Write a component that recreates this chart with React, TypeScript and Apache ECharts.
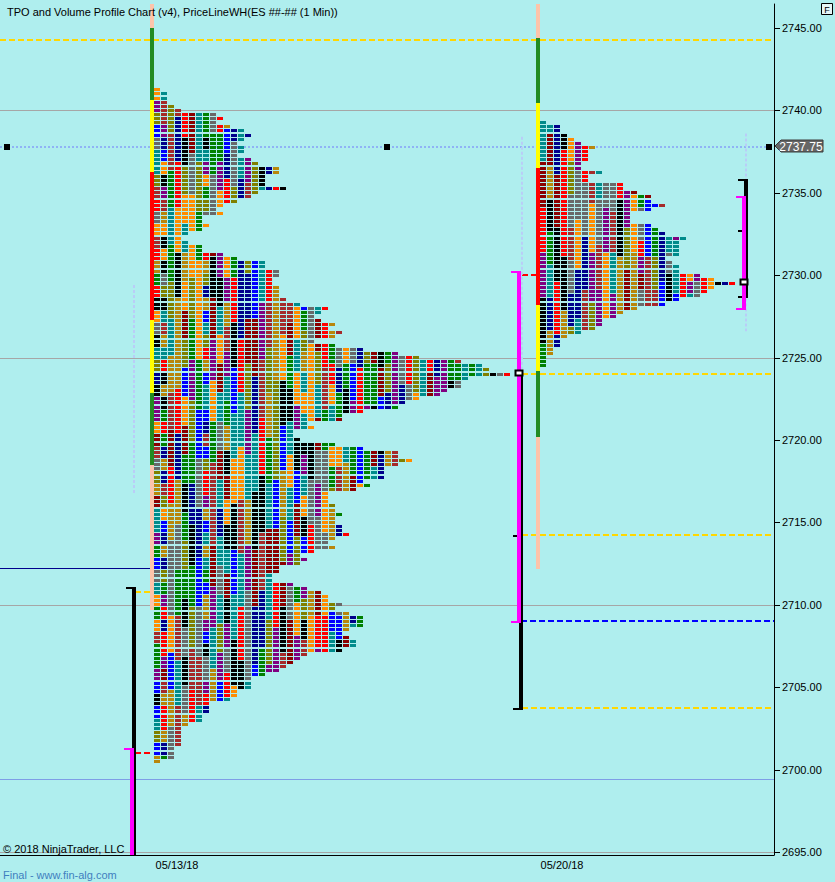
import React, { useEffect, useRef } from "react";
import * as echarts from "echarts";

// ---------- texts ----------
const TITLE = "TPO and Volume Profile Chart (v4), PriceLineWH(ES ##-## (1 Min))";
const COPYRIGHT = "© 2018 NinjaTrader, LLC";
const FOOTER = "Final - www.fin-alg.com";

// ---------- axes ----------
const dateLabels = ["05/13/18", "05/20/18"];
const dateSlots = [25.29, 80.29];
const priceTicks = [2695, 2700, 2705, 2710, 2715, 2720, 2725, 2730, 2735, 2740, 2745];
const yMin = 2694.818;
const yMax = 2746.456;
const xMax = 774 / 7; // TPO column slots across the plot
const lastPrice = 2737.75;
const tickSize = 0.25;

// ---------- TPO profiles (letters per price row, top -> bottom) ----------
const profile1Top = 2741.25;
const profile1Start = 22;
const profile1Counts = [
  1, 2, 2, 2, 3, 4, 9, 10, 9, 11, 13, 14, 13, 12, 13, 13, 12, 14, 15, 18, 18, 16, 16, 16, 19, 15, 14, 12, 10, 9, 10, 7, 7, 8, 7, 5, 4, 5, 7, 7, 10, 12, 16, 16, 18, 18, 17,
  17, 18, 18, 18, 19, 21, 25, 24, 23, 24, 26, 25, 27, 26, 23, 26, 30, 35, 38, 44, 47, 48, 51, 45, 44, 44, 42, 41, 38, 36, 35, 30, 27, 27, 22, 23, 20, 20, 21, 26, 30, 35, 35, 37, 35, 33,
  33, 33, 30, 31, 29, 25, 25, 25, 26, 26, 27, 26, 26, 27, 27, 28, 26, 25, 26, 23, 21, 22, 21, 18, 18, 17, 17, 20, 22, 24, 25, 25, 27, 26, 28, 30, 30, 30, 28, 27, 28, 29, 29, 27, 22, 21, 20, 19, 18, 16, 14, 14, 14, 12, 12, 11, 8, 8, 8, 7, 7, 5, 4, 4, 4, 4, 4, 3, 3, 3, 1,
];
const profile2Top = 2739.25;
const profile2Start = 540 / 7;
const profile2Counts = [
  1, 3, 3, 4, 5, 6, 8, 7, 7, 7, 6, 6, 9, 7, 7, 12, 12, 14, 16, 16, 18, 16, 13, 13, 13, 16, 17, 18, 21, 20, 20, 20, 20, 18, 19, 20, 20, 23, 25, 28, 25, 24, 23, 20, 18, 14, 12, 11, 9, 9, 8, 6, 4, 3, 3, 2, 2, 1, 1, 1,
];

// ---------- period (initial balance / value) bars ----------
const periodBarSlots = [21.71, 76.86];
const periodBar1 = [
  [2746.46, 2745.0, "peach"], [2745.0, 2740.63, "green"], [2740.63, 2736.26, "yellow"], [2736.26, 2727.28, "red"],
  [2727.28, 2722.85, "yellow"], [2722.85, 2718.48, "green"], [2718.48, 2709.68, "peach"],
];
const periodBar2 = [
  [2746.46, 2744.4, "peach"], [2744.4, 2740.45, "green"], [2740.45, 2736.5, "yellow"], [2736.5, 2728.2, "red"],
  [2728.2, 2724.2, "yellow"], [2724.2, 2720.2, "green"], [2720.2, 2712.2, "peach"],
];

// ---------- range bars ----------
const rangeBars = [
  // slot, top, bottom, kind
  [19.14, 2711.0, yMin, "black"],
  [74.43, 2724.07, 2703.68, "black"],
  [106.57, 2735.78, 2728.68, "black"],
  [18.86, 2701.25, yMin, "magenta"],
  [74.14, 2730.2, 2708.96, "magenta"],
  [106.29, 2734.75, 2727.95, "magenta"],
];
const rangeCaps = [
  // from slot, to slot, price, kind
  [18.0, 19.43, 2711.0, "black"],
  [73.29, 74.71, 2703.68, "black"],
  [73.29, 74.14, 2714.17, "black"],
  [105.43, 106.86, 2735.78, "black"],
  [105.43, 106.29, 2732.68, "black"],
  [105.43, 106.29, 2728.68, "black"],
  [17.71, 19.14, 2701.25, "magenta"],
  [73.0, 74.43, 2730.2, "magenta"],
  [73.0, 74.43, 2708.96, "magenta"],
  [105.14, 106.57, 2734.75, "magenta"],
  [105.14, 106.57, 2727.95, "magenta"],
];
const closeMarks = [
  [74.14, 2724.07],
  [106.29, 2729.59],
];

// ---------- horizontal levels ----------
const levels = [
  // from slot, to slot, price, kind
  [0, xMax, 2740, "grid"],
  [0, xMax, 2725, "grid"],
  [0, xMax, 2710, "grid"],
  [0, xMax, 2695, "grid"],
  [0, xMax, 2699.4, "thinBlue"],
  [0, 21.43, 2712.25, "navy"],
  [0, xMax, 2744.25, "gold"],
  [74.57, xMax, 2724.0, "gold"],
  [74.57, xMax, 2714.25, "gold"],
  [74.43, xMax, 2709.0, "blue"],
  [74.57, xMax, 2703.75, "gold"],
  [19.29, 21.86, 2710.75, "gold"],
  [19.29, 21.86, 2701.0, "red"],
  [74.57, 76.86, 2730.0, "red"],
  [0, 109.43, lastPrice, "priceDots"],
];
const priceSquares = [1.0, 55.29, 109.86];
const volumeGuides = [
  // slot, top, bottom
  [19.14, 2729.4, 2716.7],
  [74.57, 2738.4, 2716.0],
  [106.57, 2738.6, 2726.6],
];

// ---------- styles ----------
const FONT = '"Liberation Sans", Arial, sans-serif';
const FS = 11;
const BG = "#afeeee";
const PALETTE = ["#000000", "#b8860b", "#696969", "#800080", "#8b0000", "#ff8c00", "#ff0000", "#008000", "#008b8b", "#00008b", "#0000ff", "#a52a2a", "#808000"];
const BAR_COLORS: Record<string, string> = { peach: "#fcc4aa", green: "#228b22", yellow: "#ffff00", red: "#ff0000" };
const RANGE_COLORS: Record<string, string> = { black: "#000000", magenta: "#ff00ff" };
const LEVEL_STYLES: Record<string, any> = {
  grid: { stroke: "#a6a6a6", lineWidth: 1 },
  thinBlue: { stroke: "#7e9ee6", lineWidth: 1 },
  navy: { stroke: "#00008b", lineWidth: 1 },
  gold: { stroke: "#ffd700", lineWidth: 2, lineDash: [6, 3] },
  blue: { stroke: "#0000ff", lineWidth: 2, lineDash: [6, 3] },
  red: { stroke: "#ff0000", lineWidth: 2, lineDash: [6, 3] },
  priceDots: { stroke: "#8fb3f5", lineWidth: 2, lineDash: [2, 2] },
};

function mix(a: number, b: number, c: number) {
  let h = Math.imul(a + 1, 374761393) ^ Math.imul(b + 7, 668265263) ^ Math.imul(c + 13, 1274126177);
  h = Math.imul(h ^ (h >>> 13), 1274126177);
  h ^= h >>> 16;
  return h >>> 0;
}
function cellColor(prof: number, row: number, col: number) {
  const run = 3 + (mix(prof, col, 5) % 12);
  const off = mix(prof, col, 9) % run;
  const block = Math.floor((row + off) / run);
  return PALETTE[mix(prof * 31 + col, block, 3) % PALETTE.length];
}

function buildOption() {
  const tpoRows: number[][] = [];
  profile1Counts.forEach((c, i) => tpoRows.push([profile1Start, profile1Top - i * tickSize, c, 0, i]));
  profile2Counts.forEach((c, i) => tpoRows.push([profile2Start, profile2Top - i * tickSize, c, 1, i]));

  const barSegs: any[] = [];
  [periodBar1, periodBar2].forEach((segs, b) =>
    segs.forEach((s) => barSegs.push([periodBarSlots[b], s[0], s[1], s[2]]))
  );

  const hline = (api: any, x0: number, x1: number, p: number, style: any) => {
    const a = api.coord([x0, p]);
    const b = api.coord([x1, p]);
    const w = style.lineWidth || 1;
    const y = w % 2 === 1 ? Math.round(a[1]) + 0.5 : Math.round(a[1]);
    return { type: "line", shape: { x1: Math.round(a[0]), y1: y, x2: Math.round(b[0]), y2: y }, style: { ...style } };
  };

  const series: any[] = [
    {
      type: "custom",
      name: "levels",
      z: 1,
      clip: true,
      data: levels.map((l) => [l[0], l[2]]),
      renderItem: (params: any, api: any) => {
        const l = levels[params.dataIndex] as any[];
        return hline(api, l[0], l[1], l[2], LEVEL_STYLES[l[3]]);
      },
    },
    {
      type: "custom",
      name: "priceAxisTicks",
      z: 1,
      clip: false,
      data: priceTicks.map((p) => [xMax, p]),
      renderItem: (params: any, api: any) => {
        const c = api.coord([xMax, priceTicks[params.dataIndex]]);
        const x = Math.round(c[0]);
        const y = Math.round(c[1]) + 0.5;
        return { type: "line", shape: { x1: x, y1: y, x2: x + 6, y2: y }, style: { stroke: "#000", lineWidth: 1 } };
      },
    },
    {
      type: "custom",
      name: "volumeGuides",
      z: 1,
      clip: true,
      data: volumeGuides.map((g) => [g[0], g[1]]),
      renderItem: (params: any, api: any) => {
        const g = volumeGuides[params.dataIndex];
        const a = api.coord([g[0], g[1]]);
        const b = api.coord([g[0], g[2]]);
        const x = Math.round(a[0]);
        return { type: "line", shape: { x1: x, y1: a[1], x2: x, y2: b[1] }, style: { stroke: "#b9cdf7", lineWidth: 2, lineDash: [3, 2] } };
      },
    },
    {
      type: "custom",
      name: "tpo",
      z: 2,
      clip: true,
      data: tpoRows,
      renderItem: (params: any, api: any) => {
        const start = api.value(0) as number;
        const price = api.value(1) as number;
        const count = api.value(2) as number;
        const prof = api.value(3) as number;
        const row = api.value(4) as number;
        const origin = api.coord([start, price]);
        const slotW = api.size([1, 0])[0];
        const y = Math.round(origin[1] - 1.5);
        const children: any[] = [];
        for (let k = 0; k < count; k++) {
          children.push({
            type: "rect",
            shape: { x: Math.round(origin[0] + k * slotW), y, width: Math.round(slotW) - 1, height: 3 },
            style: { fill: cellColor(prof, row, k) },
          });
        }
        return { type: "group", children };
      },
    },
    {
      type: "custom",
      name: "periodBars",
      z: 3,
      clip: true,
      data: barSegs.map((s) => [s[0], s[1]]),
      renderItem: (params: any, api: any) => {
        const s = barSegs[params.dataIndex];
        const a = api.coord([s[0], s[1]]);
        const b = api.coord([s[0], s[2]]);
        const x = Math.round(a[0]) - 2;
        return { type: "rect", shape: { x, y: Math.round(a[1]), width: 4, height: Math.round(b[1]) - Math.round(a[1]) }, style: { fill: BAR_COLORS[s[3]] } };
      },
    },
  ];

  ["black", "magenta"].forEach((kind, ki) => {
    const bars = rangeBars.filter((r) => r[3] === kind);
    const caps = rangeCaps.filter((r) => r[3] === kind);
    series.push({
      type: "custom",
      name: kind + "Bars",
      z: 4 + ki,
      clip: true,
      data: bars.map((r) => [r[0], r[1]]),
      renderItem: (params: any, api: any) => {
        const r = bars[params.dataIndex] as any[];
        const a = api.coord([r[0], r[1]]);
        const b = api.coord([r[0], r[2]]);
        return { type: "rect", shape: { x: Math.round(a[0]) - 2, y: Math.round(a[1]) - 1, width: 4, height: Math.round(b[1]) - Math.round(a[1]) + 2 }, style: { fill: RANGE_COLORS[kind] } };
      },
    });
    series.push({
      type: "custom",
      name: kind + "Caps",
      z: 4 + ki,
      clip: true,
      data: caps.map((r) => [r[0], r[2]]),
      renderItem: (params: any, api: any) => {
        const r = caps[params.dataIndex] as any[];
        const a = api.coord([r[0], r[2]]);
        const b = api.coord([r[1], r[2]]);
        return { type: "rect", shape: { x: Math.round(a[0]), y: Math.round(a[1]) - 1, width: Math.round(b[0]) - Math.round(a[0]), height: 2 }, style: { fill: RANGE_COLORS[kind] } };
      },
    });
  });

  series.push({
    type: "custom",
    name: "closeMarks",
    z: 6,
    data: closeMarks,
    renderItem: (params: any, api: any) => {
      const m = closeMarks[params.dataIndex];
      const c = api.coord(m);
      return {
        type: "rect",
        shape: { x: Math.round(c[0]) - 3.5, y: Math.round(c[1]) - 2.5, width: 7, height: 5 },
        style: { fill: "#ffffff", stroke: "#000000", lineWidth: 2 },
      };
    },
  });

  series.push({
    type: "custom",
    name: "priceSquares",
    z: 6,
    data: priceSquares.map((s) => [s, lastPrice]),
    renderItem: (params: any, api: any) => {
      const c = api.coord([priceSquares[params.dataIndex], lastPrice]);
      return { type: "rect", shape: { x: Math.round(c[0]) - 3, y: Math.round(c[1]) - 3, width: 6, height: 6 }, style: { fill: "#000000" } };
    },
  });

  series.push({
    type: "custom",
    name: "priceTag",
    z: 7,
    clip: false,
    data: [[xMax, lastPrice]],
    renderItem: (params: any, api: any) => {
      const c = api.coord([xMax, lastPrice]);
      const x = Math.round(c[0]) + 1;
      const y = Math.round(c[1]) - 1;
      return {
        type: "group",
        children: [
          {
            type: "polygon",
            shape: { points: [[x, y], [x + 6, y - 6], [x + 48, y - 6], [x + 48, y + 6], [x + 6, y + 6]] },
            style: { fill: "#666666", stroke: "#3a3a3a", lineWidth: 1 },
          },
          {
            type: "text",
            z2: 10,
            style: { text: lastPrice.toFixed(2), x: x + 26, y: y + 0.5, fill: "#ffffff", fontSize: 12, fontFamily: FONT, verticalAlign: "middle", align: "center" },
          },
        ],
      };
    },
  });

  return {
    animation: false,
    backgroundColor: BG,
    grid: { left: 0, right: 61, top: 4, bottom: 27, containLabel: false },
    xAxis: {
      type: "value",
      min: 0,
      max: xMax,
      axisLine: { show: true, onZero: false, lineStyle: { color: "#000", width: 1 } },
      axisTick: { show: false },
      splitLine: { show: false },
      axisLabel: {
        customValues: dateSlots,
        margin: 4,
        color: "#000",
        fontSize: FS,
        fontFamily: FONT,
        formatter: (v: number) => {
          let best = 0;
          dateSlots.forEach((d, i) => {
            if (Math.abs(d - v) < Math.abs(dateSlots[best] - v)) best = i;
          });
          return dateLabels[best];
        },
      },
    },
    yAxis: {
      type: "value",
      position: "right",
      min: yMin,
      max: yMax,
      axisLine: { show: true, onZero: false, lineStyle: { color: "#000", width: 1 } },
      axisTick: { show: false },
      splitLine: { show: false },
      splitArea: { show: false },
      minorTick: { show: false },
      axisLabel: {
        customValues: priceTicks,
        margin: 8,
        color: "#000",
        fontSize: FS,
        fontFamily: FONT,
        formatter: (v: number) => v.toFixed(2),
      },
    },
    graphic: [
      { type: "text", z: 100, left: 7, top: 6, style: { text: TITLE, fill: "#000", fontSize: FS, fontFamily: FONT } },
      { type: "text", z: 100, left: 3, top: 843, style: { text: COPYRIGHT, fill: "#000", fontSize: FS, fontFamily: FONT } },
      { type: "text", z: 100, left: 3, top: 869, style: { text: FOOTER, fill: "#3f7fbf", fontSize: FS, fontFamily: FONT } },
      {
        type: "group",
        z: 100,
        left: 821,
        top: 3,
        children: [
          { type: "rect", shape: { x: 0, y: 0, width: 11, height: 11 }, style: { fill: "#e6f6f6", stroke: "#000", lineWidth: 1 } },
          { type: "text", style: { text: "F", x: 5.5, y: 6, fill: "#000", fontSize: 9, fontFamily: FONT, align: "center", verticalAlign: "middle" } },
        ],
      },
    ],
    series,
  };
}

export default function App() {
  const ref = useRef<HTMLDivElement>(null);
  useEffect(() => {
    document.body.style.margin = "0";
    const chart = echarts.init(ref.current as HTMLDivElement, null, { renderer: "svg" });
    chart.setOption(buildOption() as any);
    return () => chart.dispose();
  }, []);
  return <div ref={ref} style={{ width: 835, height: 882 }} />;
}
